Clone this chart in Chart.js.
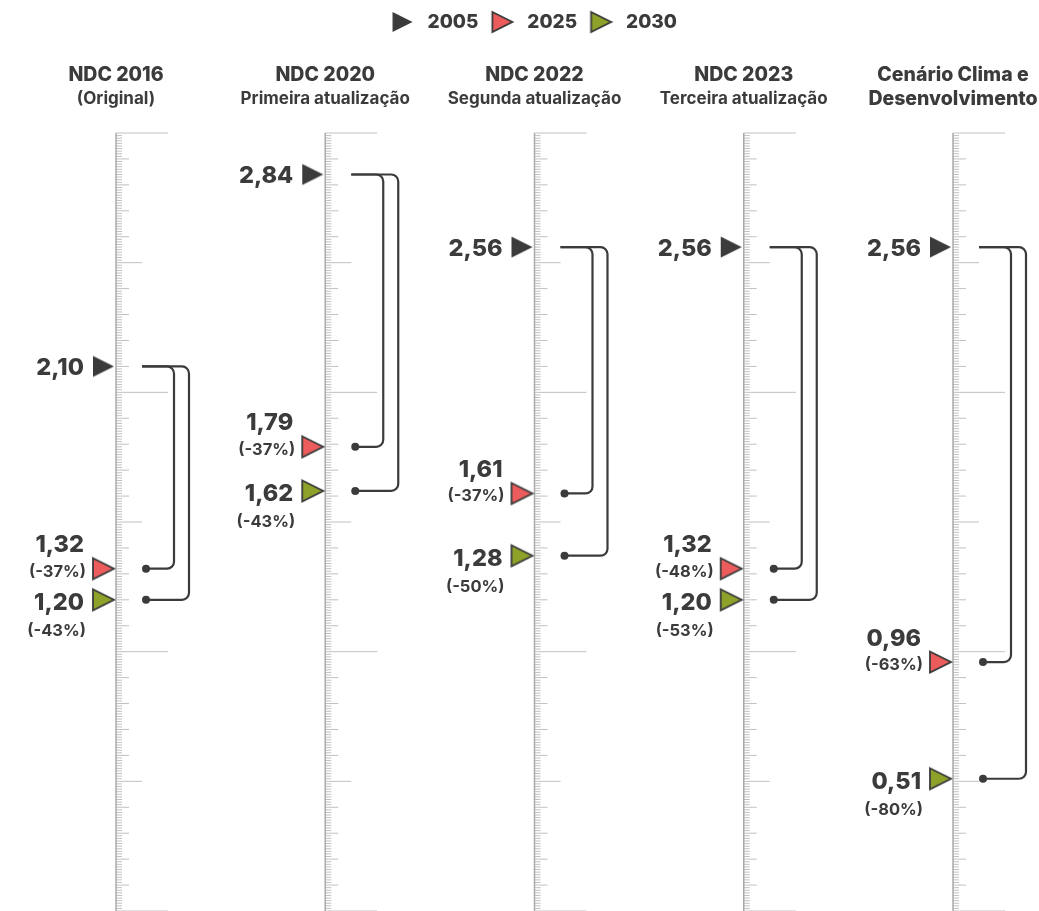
<!DOCTYPE html>
<html lang="pt-BR">
<head>
<meta charset="utf-8">
<title>NDC Brasil</title>
<script src="https://cdn.jsdelivr.net/npm/chart.js@4.4.1/dist/chart.umd.min.js"></script>
<style>
  html, body { margin: 0; padding: 0; background: #ffffff; }
  #wrap { width: 1039px; height: 911px; position: relative; }
  canvas { display: block; }
</style>
</head>
<body>
<div id="wrap"><canvas id="chart" width="1039" height="911"></canvas></div>
<script>
// ---------------- data ----------------
const seriesNames = ['2005', '2025', '2030'];
const headerTitles = ['NDC 2016', 'NDC 2020', 'NDC 2022', 'NDC 2023', ['Cenário Clima e', 'Desenvolvimento']];
const headerSubtitles = ['(Original)', 'Primeira atualização', 'Segunda atualização', 'Terceira atualização', ''];
// marker positions
const values2005 = [2.10, 2.84, 2.56, 2.56, 2.56];
const values2025 = [1.32, 1.79, 1.61, 1.32, 0.96];
const values2030 = [1.20, 1.62, 1.37, 1.20, 0.51];
// printed labels
const labels2005 = ['2,10', '2,84', '2,56', '2,56', '2,56'];
const labels2025 = ['1,32', '1,79', '1,61', '1,32', '0,96'];
const labels2030 = ['1,20', '1,62', '1,28', '1,20', '0,51'];
const pct2025 = ['(-37%)', '(-37%)', '(-37%)', '(-48%)', '(-63%)'];
const pct2030 = ['(-43%)', '(-43%)', '(-50%)', '(-53%)', '(-80%)'];
const rulerMin = 0;
const rulerMax = 3;

// ---------------- style ----------------
const DARK = '#3b3b3b';
const RED = '#ec5c5c';
const GREEN = '#8ea229';
const FONT = 'Inter, "Noto Sans", Roboto, sans-serif';
const W = 1039;
const PAD_LEFT = 24;
const FIRST_RULER = 116;
const COL_GAP = 209.25;
const xMin = -(FIRST_RULER - PAD_LEFT) / COL_GAP;
const xMax = xMin + (W - PAD_LEFT) / COL_GAP;

function triangleImage(fill, outline, w, h, tipX, triW, triH) {
  const c = document.createElement('canvas');
  c.width = w; c.height = h;
  const g = c.getContext('2d');
  const cy = h / 2;
  g.beginPath();
  g.moveTo(tipX - triW, cy - triH / 2);
  g.lineTo(tipX, cy);
  g.lineTo(tipX - triW, cy + triH / 2);
  g.closePath();
  g.fillStyle = fill;
  g.fill();
  if (outline) {
    g.lineJoin = 'miter';
    g.lineWidth = 1.8;
    g.strokeStyle = outline;
    g.stroke();
  }
  return c;
}

const fills = [DARK, RED, GREEN];
const outlines = [null, DARK, DARK];
const markerImgs = fills.map((f, i) => triangleImage(f, outlines[i], 50, 26, 23, 21, 21));
const legendImgs = fills.map((f, i) => triangleImage(f, outlines[i], 24, 24, 22.5, 20, 20));

const rulerPlugin = {
  id: 'ruler',
  beforeDatasetsDraw(chart) {
    const { ctx, scales: { x, y } } = chart;
    ctx.save();
    headerTitles.forEach((_, i) => {
      const px = x.getPixelForValue(i);
      const top = y.getPixelForValue(rulerMax);
      const bottom = y.getPixelForValue(rulerMin);
      for (let k = Math.round(rulerMin * 100); k <= Math.round(rulerMax * 100); k++) {
        const v = k / 100;
        const py = y.getPixelForValue(v);
        let len = 6;
        if (k % 100 === 0) len = 52;
        else if (k % 50 === 0) len = 26;
        else if (k % 10 === 0) len = 13;
        ctx.beginPath();
        ctx.strokeStyle = '#c0c0c0';
        ctx.lineWidth = 1;
        ctx.moveTo(px, py);
        ctx.lineTo(px + len, py);
        ctx.stroke();
      }
      ctx.beginPath();
      ctx.strokeStyle = '#aaaaaa';
      ctx.lineWidth = 1.5;
      ctx.moveTo(px, top);
      ctx.lineTo(px, bottom);
      ctx.stroke();
    });
    ctx.restore();
  }
};

const annotatePlugin = {
  id: 'annotate',
  afterDatasetsDraw(chart) {
    const { ctx, scales: { x, y } } = chart;
    ctx.save();
    ctx.strokeStyle = DARK;
    ctx.fillStyle = DARK;
    ctx.lineWidth = 2.2;
    const r = 7;
    headerTitles.forEach((_, i) => {
      const px = x.getPixelForValue(i);
      const y0 = y.getPixelForValue(values2005[i]);
      [values2025[i], values2030[i]].forEach((v, k) => {
        const yt = y.getPixelForValue(v);
        const xv = px + (k === 0 ? 58 : 73);
        ctx.beginPath();
        ctx.moveTo(px + 26, y0);
        ctx.arcTo(xv, y0, xv, yt, r);
        ctx.arcTo(xv, yt, px + 30, yt, r);
        ctx.lineTo(px + 30, yt);
        ctx.stroke();
        ctx.beginPath();
        ctx.arc(px + 30, yt, 4, 0, Math.PI * 2);
        ctx.fill();
      });
    });
    ctx.fillStyle = DARK;
    ctx.textAlign = 'right';
    ctx.textBaseline = 'alphabetic';
    const big = '800 23.5px ' + FONT;
    const small = '700 16.5px ' + FONT;
    const seriesLabels = [labels2005, labels2025, labels2030];
    chart.data.datasets.forEach((ds, di) => {
      const meta = chart.getDatasetMeta(di);
      meta.data.forEach((pt, i) => {
        const rx = pt.x - 32;
        const t = seriesLabels[di][i];
        if (di === 0) {
          ctx.font = big; ctx.fillText(t, rx, pt.y + 8.5);
        } else if (di === 1) {
          ctx.font = big; ctx.fillText(t, rx, pt.y - 25 + 8.5);
          ctx.font = small; ctx.fillText(pct2025[i], rx + 2, pt.y + 2 + 6);
        } else {
          ctx.font = big; ctx.fillText(t, rx, pt.y + 2 + 8.5);
          ctx.font = small; ctx.fillText(pct2030[i], rx + 2, pt.y + 30 + 6);
        }
      });
    });
    ctx.textAlign = 'center';
    ctx.textBaseline = 'middle';
    headerTitles.forEach((t, i) => {
      const px = x.getPixelForValue(i);
      const lines = Array.isArray(t) ? t : [t];
      ctx.font = '800 19.5px ' + FONT;
      lines.forEach((ln, j) => ctx.fillText(ln, px, 75 + j * 24));
      if (headerSubtitles[i]) {
        ctx.font = '700 17px ' + FONT;
        ctx.fillText(headerSubtitles[i], px, 75 + lines.length * 24);
      }
    });
    ctx.restore();
  }
};

function build() {
  const datasets = [values2005, values2025, values2030].map((vals, di) => ({
    label: seriesNames[di],
    data: vals.map((v, i) => ({ x: i, y: v })),
    pointStyle: markerImgs[di],
    pointRadius: 5,
    pointHoverRadius: 5,
    backgroundColor: fills[di],
    borderColor: DARK,
    showLine: false
  }));

  new Chart(document.getElementById('chart'), {
    type: 'scatter',
    data: { datasets },
    options: {
      responsive: false,
      animation: false,
      events: [],
      layout: { autoPadding: false, padding: { left: PAD_LEFT, top: 5, right: 0, bottom: 0 } },
      scales: {
        x: {
          type: 'linear',
          position: 'top',
          min: xMin,
          max: xMax,
          ticks: { display: false },
          grid: { display: false },
          border: { display: false },
          afterFit: s => { s.height = 133 - 5 - 34; }
        },
        y: {
          type: 'linear',
          min: rulerMin,
          max: rulerMax,
          display: false
        }
      },
      plugins: {
        tooltip: { enabled: false },
        legend: {
          display: true,
          position: 'top',
          align: 'center',
          maxHeight: 34,
          labels: {
            usePointStyle: true,
            pointStyleWidth: 32,
            padding: 7.5,
            color: DARK,
            font: { family: FONT, size: 19, weight: '800' },
            generateLabels: chart => chart.data.datasets.map((ds, i) => ({
              text: ds.label,
              pointStyle: legendImgs[i],
              fillStyle: fills[i],
              strokeStyle: DARK,
              lineWidth: 0,
              fontColor: DARK,
              hidden: false,
              datasetIndex: i
            }))
          }
        }
      }
    },
    plugins: [rulerPlugin, annotatePlugin]
  });
}

if (document.fonts && document.fonts.load) {
  Promise.all([
    document.fonts.load('700 19px Inter'),
    document.fonts.load('800 23px Inter')
  ]).catch(() => {}).finally(build);
} else {
  build();
}
</script>
</body>
</html>
